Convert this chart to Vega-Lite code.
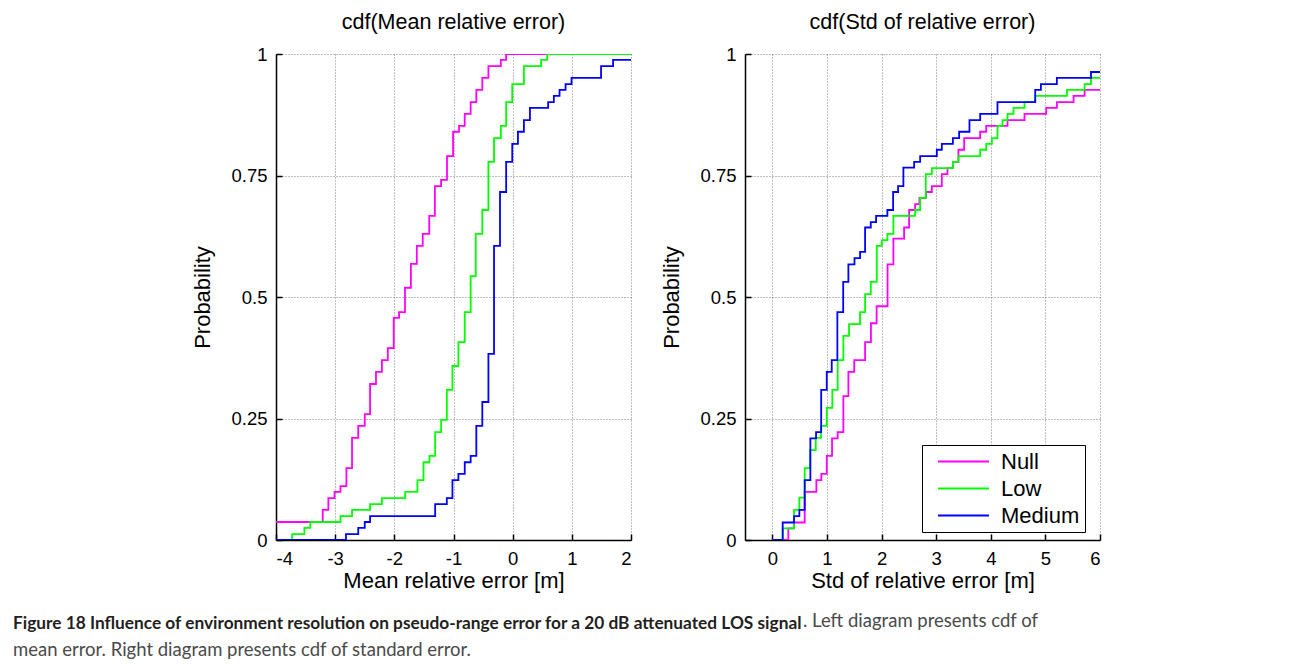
{
  "$schema": "https://vega.github.io/schema/vega-lite/v6.json",
  "padding": {"left": 12, "top": 11, "right": 5, "bottom": 5},
  "background": "#ffffff",
  "datasets": {
    "cdf": [
      {"p":"mean","s":"Null","x":-4,"y":0.037},{"p":"mean","s":"Null","x":-3.21,"y":0.062},{"p":"mean","s":"Null","x":-3.115,"y":0.086},{"p":"mean","s":"Null","x":-3.01,"y":0.099},{"p":"mean","s":"Null","x":-2.91,"y":0.111},{"p":"mean","s":"Null","x":-2.81,"y":0.148},{"p":"mean","s":"Null","x":-2.715,"y":0.21},{"p":"mean","s":"Null","x":-2.61,"y":0.235},{"p":"mean","s":"Null","x":-2.5,"y":0.259},{"p":"mean","s":"Null","x":-2.41,"y":0.321},{"p":"mean","s":"Null","x":-2.31,"y":0.346},{"p":"mean","s":"Null","x":-2.21,"y":0.37},{"p":"mean","s":"Null","x":-2.11,"y":0.395},{"p":"mean","s":"Null","x":-2.01,"y":0.457},{"p":"mean","s":"Null","x":-1.92,"y":0.469},{"p":"mean","s":"Null","x":-1.82,"y":0.519},{"p":"mean","s":"Null","x":-1.72,"y":0.568},{"p":"mean","s":"Null","x":-1.62,"y":0.605},{"p":"mean","s":"Null","x":-1.52,"y":0.63},{"p":"mean","s":"Null","x":-1.41,"y":0.667},{"p":"mean","s":"Null","x":-1.315,"y":0.728},{"p":"mean","s":"Null","x":-1.21,"y":0.741},{"p":"mean","s":"Null","x":-1.11,"y":0.79},{"p":"mean","s":"Null","x":-1.007,"y":0.84},{"p":"mean","s":"Null","x":-0.906,"y":0.852},{"p":"mean","s":"Null","x":-0.81,"y":0.877},{"p":"mean","s":"Null","x":-0.71,"y":0.901},{"p":"mean","s":"Null","x":-0.614,"y":0.926},{"p":"mean","s":"Null","x":-0.513,"y":0.951},{"p":"mean","s":"Null","x":-0.41,"y":0.975},{"p":"mean","s":"Null","x":-0.2,"y":0.988},{"p":"mean","s":"Null","x":-0.11,"y":1.0},{"p":"mean","s":"Null","x":2,"y":1.0},
      {"p":"mean","s":"Low","x":-4,"y":0},{"p":"mean","s":"Low","x":-3.727,"y":0.012},{"p":"mean","s":"Low","x":-3.52,"y":0.025},{"p":"mean","s":"Low","x":-3.42,"y":0.037},{"p":"mean","s":"Low","x":-2.91,"y":0.049},{"p":"mean","s":"Low","x":-2.715,"y":0.062},{"p":"mean","s":"Low","x":-2.41,"y":0.074},{"p":"mean","s":"Low","x":-2.21,"y":0.086},{"p":"mean","s":"Low","x":-1.816,"y":0.099},{"p":"mean","s":"Low","x":-1.61,"y":0.123},{"p":"mean","s":"Low","x":-1.507,"y":0.16},{"p":"mean","s":"Low","x":-1.406,"y":0.173},{"p":"mean","s":"Low","x":-1.31,"y":0.222},{"p":"mean","s":"Low","x":-1.209,"y":0.247},{"p":"mean","s":"Low","x":-1.113,"y":0.309},{"p":"mean","s":"Low","x":-1.018,"y":0.358},{"p":"mean","s":"Low","x":-0.917,"y":0.407},{"p":"mean","s":"Low","x":-0.81,"y":0.469},{"p":"mean","s":"Low","x":-0.71,"y":0.543},{"p":"mean","s":"Low","x":-0.624,"y":0.63},{"p":"mean","s":"Low","x":-0.513,"y":0.679},{"p":"mean","s":"Low","x":-0.41,"y":0.778},{"p":"mean","s":"Low","x":-0.315,"y":0.827},{"p":"mean","s":"Low","x":-0.2,"y":0.852},{"p":"mean","s":"Low","x":-0.11,"y":0.901},{"p":"mean","s":"Low","x":-0.007,"y":0.938},{"p":"mean","s":"Low","x":0.19,"y":0.975},{"p":"mean","s":"Low","x":0.482,"y":0.988},{"p":"mean","s":"Low","x":0.583,"y":1.0},{"p":"mean","s":"Low","x":2,"y":1.0},
      {"p":"mean","s":"Medium","x":-4,"y":0},{"p":"mean","s":"Medium","x":-2.817,"y":0.012},{"p":"mean","s":"Medium","x":-2.61,"y":0.025},{"p":"mean","s":"Medium","x":-2.5,"y":0.037},{"p":"mean","s":"Medium","x":-2.41,"y":0.049},{"p":"mean","s":"Medium","x":-1.31,"y":0.074},{"p":"mean","s":"Medium","x":-1.113,"y":0.086},{"p":"mean","s":"Medium","x":-1.018,"y":0.123},{"p":"mean","s":"Medium","x":-0.917,"y":0.136},{"p":"mean","s":"Medium","x":-0.81,"y":0.16},{"p":"mean","s":"Medium","x":-0.71,"y":0.173},{"p":"mean","s":"Medium","x":-0.614,"y":0.235},{"p":"mean","s":"Medium","x":-0.513,"y":0.284},{"p":"mean","s":"Medium","x":-0.41,"y":0.383},{"p":"mean","s":"Medium","x":-0.315,"y":0.605},{"p":"mean","s":"Medium","x":-0.214,"y":0.716},{"p":"mean","s":"Medium","x":-0.11,"y":0.778},{"p":"mean","s":"Medium","x":-0.007,"y":0.815},{"p":"mean","s":"Medium","x":0.089,"y":0.84},{"p":"mean","s":"Medium","x":0.19,"y":0.864},{"p":"mean","s":"Medium","x":0.292,"y":0.889},{"p":"mean","s":"Medium","x":0.6,"y":0.901},{"p":"mean","s":"Medium","x":0.696,"y":0.914},{"p":"mean","s":"Medium","x":0.792,"y":0.926},{"p":"mean","s":"Medium","x":0.894,"y":0.938},{"p":"mean","s":"Medium","x":0.995,"y":0.951},{"p":"mean","s":"Medium","x":1.494,"y":0.975},{"p":"mean","s":"Medium","x":1.697,"y":0.988},{"p":"mean","s":"Medium","x":2,"y":0.988},
      {"p":"std","s":"Null","x":0,"y":0},{"p":"std","s":"Null","x":0.293,"y":0.024},{"p":"std","s":"Null","x":0.398,"y":0.036},{"p":"std","s":"Null","x":0.593,"y":0.099},{"p":"std","s":"Null","x":0.807,"y":0.123},{"p":"std","s":"Null","x":0.898,"y":0.136},{"p":"std","s":"Null","x":0.997,"y":0.173},{"p":"std","s":"Null","x":1.094,"y":0.209},{"p":"std","s":"Null","x":1.197,"y":0.222},{"p":"std","s":"Null","x":1.301,"y":0.296},{"p":"std","s":"Null","x":1.393,"y":0.346},{"p":"std","s":"Null","x":1.5,"y":0.37},{"p":"std","s":"Null","x":1.699,"y":0.407},{"p":"std","s":"Null","x":1.806,"y":0.446},{"p":"std","s":"Null","x":1.91,"y":0.481},{"p":"std","s":"Null","x":2.11,"y":0.567},{"p":"std","s":"Null","x":2.217,"y":0.62},{"p":"std","s":"Null","x":2.413,"y":0.643},{"p":"std","s":"Null","x":2.505,"y":0.679},{"p":"std","s":"Null","x":2.615,"y":0.691},{"p":"std","s":"Null","x":2.694,"y":0.704},{"p":"std","s":"Null","x":2.817,"y":0.716},{"p":"std","s":"Null","x":2.921,"y":0.728},{"p":"std","s":"Null","x":3.104,"y":0.753},{"p":"std","s":"Null","x":3.207,"y":0.765},{"p":"std","s":"Null","x":3.306,"y":0.778},{"p":"std","s":"Null","x":3.408,"y":0.803},{"p":"std","s":"Null","x":3.513,"y":0.827},{"p":"std","s":"Null","x":3.806,"y":0.84},{"p":"std","s":"Null","x":3.916,"y":0.852},{"p":"std","s":"Null","x":4.307,"y":0.864},{"p":"std","s":"Null","x":4.618,"y":0.877},{"p":"std","s":"Null","x":5.016,"y":0.889},{"p":"std","s":"Null","x":5.21,"y":0.901},{"p":"std","s":"Null","x":5.516,"y":0.914},{"p":"std","s":"Null","x":5.718,"y":0.926},{"p":"std","s":"Null","x":6,"y":0.926},
      {"p":"std","s":"Low","x":0,"y":0},{"p":"std","s":"Low","x":0.19,"y":0.024},{"p":"std","s":"Low","x":0.398,"y":0.062},{"p":"std","s":"Low","x":0.495,"y":0.087},{"p":"std","s":"Low","x":0.593,"y":0.148},{"p":"std","s":"Low","x":0.691,"y":0.185},{"p":"std","s":"Low","x":0.795,"y":0.21},{"p":"std","s":"Low","x":0.892,"y":0.235},{"p":"std","s":"Low","x":0.997,"y":0.272},{"p":"std","s":"Low","x":1.099,"y":0.309},{"p":"std","s":"Low","x":1.197,"y":0.37},{"p":"std","s":"Low","x":1.301,"y":0.42},{"p":"std","s":"Low","x":1.405,"y":0.444},{"p":"std","s":"Low","x":1.607,"y":0.469},{"p":"std","s":"Low","x":1.699,"y":0.506},{"p":"std","s":"Low","x":1.803,"y":0.531},{"p":"std","s":"Low","x":1.913,"y":0.605},{"p":"std","s":"Low","x":2.004,"y":0.617},{"p":"std","s":"Low","x":2.107,"y":0.63},{"p":"std","s":"Low","x":2.217,"y":0.667},{"p":"std","s":"Low","x":2.615,"y":0.679},{"p":"std","s":"Low","x":2.707,"y":0.704},{"p":"std","s":"Low","x":2.81,"y":0.753},{"p":"std","s":"Low","x":2.921,"y":0.765},{"p":"std","s":"Low","x":3.306,"y":0.778},{"p":"std","s":"Low","x":3.408,"y":0.79},{"p":"std","s":"Low","x":3.806,"y":0.803},{"p":"std","s":"Low","x":3.916,"y":0.815},{"p":"std","s":"Low","x":4.02,"y":0.827},{"p":"std","s":"Low","x":4.123,"y":0.852},{"p":"std","s":"Low","x":4.215,"y":0.864},{"p":"std","s":"Low","x":4.307,"y":0.877},{"p":"std","s":"Low","x":4.416,"y":0.889},{"p":"std","s":"Low","x":4.618,"y":0.901},{"p":"std","s":"Low","x":4.814,"y":0.914},{"p":"std","s":"Low","x":5.394,"y":0.926},{"p":"std","s":"Low","x":5.718,"y":0.938},{"p":"std","s":"Low","x":5.835,"y":0.951},{"p":"std","s":"Low","x":6,"y":0.951},
      {"p":"std","s":"Medium","x":0,"y":0},{"p":"std","s":"Medium","x":0.19,"y":0.036},{"p":"std","s":"Medium","x":0.398,"y":0.049},{"p":"std","s":"Medium","x":0.495,"y":0.062},{"p":"std","s":"Medium","x":0.593,"y":0.123},{"p":"std","s":"Medium","x":0.697,"y":0.209},{"p":"std","s":"Medium","x":0.801,"y":0.222},{"p":"std","s":"Medium","x":0.895,"y":0.309},{"p":"std","s":"Medium","x":0.997,"y":0.346},{"p":"std","s":"Medium","x":1.088,"y":0.37},{"p":"std","s":"Medium","x":1.191,"y":0.469},{"p":"std","s":"Medium","x":1.298,"y":0.531},{"p":"std","s":"Medium","x":1.393,"y":0.567},{"p":"std","s":"Medium","x":1.505,"y":0.58},{"p":"std","s":"Medium","x":1.607,"y":0.593},{"p":"std","s":"Medium","x":1.699,"y":0.643},{"p":"std","s":"Medium","x":1.803,"y":0.654},{"p":"std","s":"Medium","x":1.9,"y":0.667},{"p":"std","s":"Medium","x":2.107,"y":0.679},{"p":"std","s":"Medium","x":2.212,"y":0.716},{"p":"std","s":"Medium","x":2.303,"y":0.728},{"p":"std","s":"Medium","x":2.4,"y":0.766},{"p":"std","s":"Medium","x":2.597,"y":0.778},{"p":"std","s":"Medium","x":2.707,"y":0.79},{"p":"std","s":"Medium","x":3.012,"y":0.803},{"p":"std","s":"Medium","x":3.104,"y":0.815},{"p":"std","s":"Medium","x":3.306,"y":0.827},{"p":"std","s":"Medium","x":3.421,"y":0.84},{"p":"std","s":"Medium","x":3.61,"y":0.864},{"p":"std","s":"Medium","x":3.806,"y":0.877},{"p":"std","s":"Medium","x":4.123,"y":0.901},{"p":"std","s":"Medium","x":4.814,"y":0.926},{"p":"std","s":"Medium","x":4.918,"y":0.938},{"p":"std","s":"Medium","x":5.21,"y":0.951},{"p":"std","s":"Medium","x":5.835,"y":0.963},{"p":"std","s":"Medium","x":6,"y":0.963}
    ]
  },
  "title": {
    "text": ". Left diagram presents cdf of",
    "orient": "bottom",
    "anchor": "start",
    "frame": "bounds",
    "font": "Lato",
    "fontWeight": "normal",
    "fontSize": 18.5,
    "color": "#4a4a4a",
    "dx": 790,
    "dy": -47,
    "offset": 0
  },
  "vconcat": [
    {
      "title": {
        "text": "Figure 18 Influence of environment resolution on pseudo-range error for a 20 dB attenuated LOS signal",
        "subtitle": "mean error. Right diagram presents cdf of standard error.",
        "orient": "bottom",
        "anchor": "start",
        "frame": "bounds",
        "font": "Lato",
        "fontWeight": "bold",
        "fontSize": 17.3,
        "color": "#231f20",
        "subtitleFont": "Lato",
        "subtitleFontSize": 18.5,
        "subtitleColor": "#4a4a4a",
        "subtitlePadding": 9,
        "dx": -179,
        "offset": 23
      },
      "hconcat": [
        {
          "width": 355,
          "height": 486,
          "title": {"text": "cdf(Mean relative error)", "offset": 12},
          "data": {"name": "cdf"},
          "transform": [{"filter": "datum.p === 'mean'"}],
          "mark": {"type": "line", "interpolate": "step-after", "strokeWidth": 1.8, "clip": true},
          "encoding": {
            "x": {"field": "x", "type": "quantitative", "scale": {"domain": [-4, 2], "nice": false, "zero": false},
                  "axis": {"values": [-4, -3, -2, -1, 0, 1, 2], "title": "Mean relative error [m]", "labelExpr": "'' + datum.value"}},
            "y": {"field": "y", "type": "quantitative", "scale": {"domain": [0, 1], "nice": false},
                  "axis": {"values": [0, 0.25, 0.5, 0.75, 1], "labelExpr": "'' + datum.value", "title": "Probability"}},
            "color": {"field": "s", "type": "nominal", "sort": ["Null", "Low", "Medium"],
                      "scale": {"domain": ["Null", "Low", "Medium"], "range": ["#ff00ff", "#00ff00", "#0000ff"]}, "legend": null}
          }
        },
        {
          "width": 355,
          "height": 486,
          "title": {"text": "cdf(Std of relative error)", "offset": 12},
          "data": {"name": "cdf"},
          "transform": [{"filter": "datum.p === 'std'"}],
          "mark": {"type": "line", "interpolate": "step-after", "strokeWidth": 1.8, "clip": true},
          "encoding": {
            "x": {"field": "x", "type": "quantitative", "scale": {"domain": [-0.5, 6], "nice": false, "zero": false},
                  "axis": {"values": [0, 1, 2, 3, 4, 5, 6], "title": "Std of relative error [m]", "labelExpr": "'' + datum.value"}},
            "y": {"field": "y", "type": "quantitative", "scale": {"domain": [0, 1], "nice": false},
                  "axis": {"values": [0, 0.25, 0.5, 0.75, 1], "labelExpr": "'' + datum.value", "title": "Probability"}},
            "color": {"field": "s", "type": "nominal", "sort": ["Null", "Low", "Medium"],
                      "scale": {"domain": ["Null", "Low", "Medium"], "range": ["#ff00ff", "#00ff00", "#0000ff"]},
                      "legend": {"title": null, "orient": "none", "legendX": 177, "legendY": 391,
                                 "symbolType": "M-2.5,0H2.5", "symbolSize": 416, "symbolStrokeWidth": 2,
                                 "labelFontSize": 22, "labelColor": "#000", "labelOffset": 26,
                                 "strokeColor": "#000", "fillColor": "#fff", "padding": 5, "rowPadding": 4,
                                 "symbolOffset": 25}}
          }
        }
      ],
      "spacing": 28,
      "resolve": {"scale": {"color": "independent"}}
    }
  ],
  "config": {
    "font": "Liberation Sans",
    "view": {"stroke": null},
    "axis": {
      "domainColor": "#000", "domainWidth": 1.5,
      "tickColor": "#000", "tickWidth": 1.5, "tickSize": -6,
      "labelFontSize": 18.5, "labelColor": "#000", "labelPadding": 15,
      "titleFontSize": 22, "titleFontWeight": "normal", "titleColor": "#000",
      "gridColor": "#444", "gridDash": [1, 2], "gridOpacity": 0.7, "gridWidth": 1
    },
    "axisY": {"titlePadding": 16},
    "axisX": {"titlePadding": 3},
    "title": {"fontSize": 21.5, "fontWeight": "normal", "color": "#000"}
  }
}
